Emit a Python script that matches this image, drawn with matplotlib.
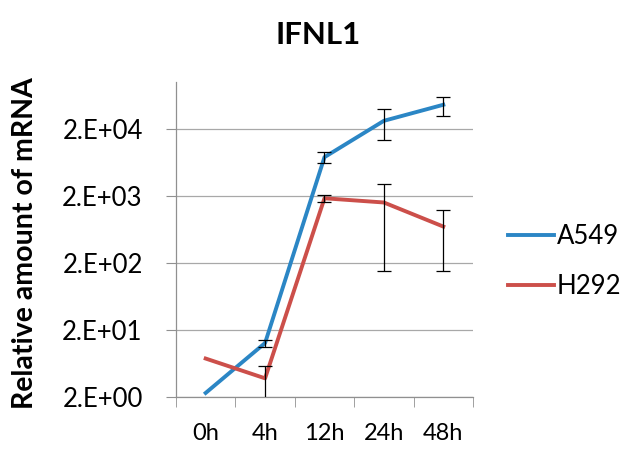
import numpy as np
import matplotlib
matplotlib.use("Agg")
import matplotlib.pyplot as plt
from matplotlib.ticker import FixedLocator, FixedFormatter, NullLocator

plt.rcParams["font.family"] = ["Lato", "DejaVu Sans"]

times = ["0h", "4h", "12h", "24h", "48h"]
a549 = [2.3, 12.8, 7600, 26500, 46000]
a549_err = [0.0, 1.6, 1450, 13000, 14700]
h292 = [7.5, 3.8, 1850, 1600, 700]
h292_err = [0.0, 2.0, 230, 1450, 550]
yticks = [2, 20, 200, 2000, 20000]
ytick_labels = ["2.E+00", "2.E+01", "2.E+02", "2.E+03", "2.E+04"]

blue = "#2b86c5"
red = "#cc4f4a"

fig = plt.figure(figsize=(6.24, 4.49), dpi=100)
ax = fig.add_axes([0.282, 0.1158, 0.476, 0.7012])

x = np.arange(len(times))
ax.plot(x, a549, color=blue, lw=2.8, label="A549", zorder=3)
ax.plot(x, h292, color=red, lw=2.8, label="H292", zorder=3)
ax.errorbar(x[1:], a549[1:], yerr=a549_err[1:], fmt="none", ecolor="black",
            elinewidth=0.9, capsize=5, capthick=0.9, zorder=4)
ax.errorbar(x[1:], h292[1:], yerr=h292_err[1:], fmt="none", ecolor="black",
            elinewidth=0.9, capsize=5, capthick=0.9, zorder=4)

ax.set_yscale("log")
ax.set_ylim(2, 1e5)
ax.set_xlim(-0.5, len(times) - 0.5)
ax.yaxis.set_major_locator(FixedLocator(yticks))
ax.yaxis.set_major_formatter(FixedFormatter(ytick_labels))
ax.yaxis.set_minor_locator(NullLocator())
ax.grid(axis="y", color="#a8a8a8", lw=0.9)

ax.set_xticks(x)
ax.set_xticklabels(times)
ax.set_xticks(np.arange(len(times) + 1) - 0.5, minor=True)
ax.tick_params(axis="x", which="major", length=0, pad=19, labelsize=17)
ax.tick_params(axis="x", which="minor", length=7, color="#909090", direction="out")
ax.tick_params(axis="y", length=7, color="#909090", pad=17, labelsize=18.5)

for s in ["top", "right"]:
    ax.spines[s].set_visible(False)
for s in ["left", "bottom"]:
    ax.spines[s].set_color("#909090")
    ax.spines[s].set_linewidth(0.9)

fig.text(25 / 624, 0.459, "Relative amount of mRNA", rotation=90, ha="center", va="center",
         fontsize=20.5, fontweight="bold")
fig.text(0.51, 0.922, "IFNL1", ha="center", va="center", fontsize=22.5, fontweight="bold")

ax.legend(loc="center left", bbox_to_anchor=(1.04, 0.43), frameon=False,
          fontsize=18.5, handlelength=1.8, handletextpad=0.1, labelspacing=0.95)

fig.savefig("out.png", dpi=100)
